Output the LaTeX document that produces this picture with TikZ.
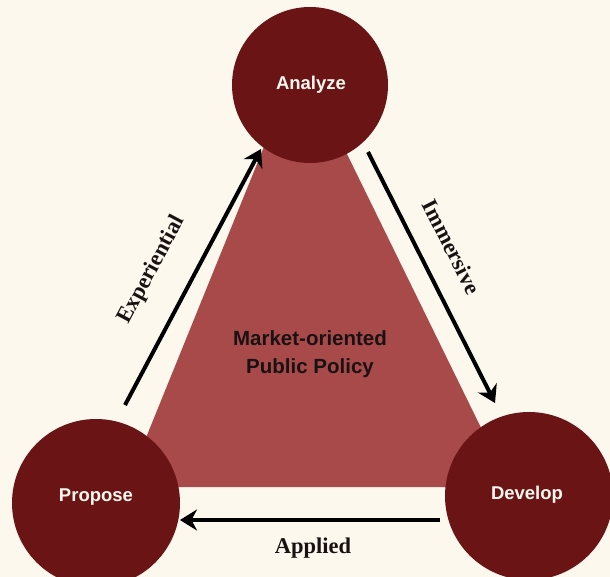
\documentclass[tikz,border=0pt]{standalone}
\usepackage{fontspec}
\setmainfont{Liberation Serif}
\setsansfont{Liberation Sans}
\usetikzlibrary{arrows.meta}

\definecolor{cream}{HTML}{FCF8EE}
\definecolor{maroon}{HTML}{6B1416}
\definecolor{brick}{HTML}{A84A4A}
\definecolor{ink}{HTML}{1A1212}

\tikzset{
  stage/.style={circle, fill=maroon, inner sep=0pt},
  stagetext/.style={text=cream, font=\sffamily\bfseries\fontsize{18.5}{22}\selectfont},
  flow/.style={line width=4pt, -{Stealth[length=17pt,width=21pt]}},
  mode/.style={text=ink, font=\bfseries\fontsize{22.5}{26}\selectfont},
}

\begin{document}
\begin{tikzpicture}[x=1pt,y=-1pt]

  \useasboundingbox (0,0) rectangle (610,577);
  \clip (0,0) rectangle (610,577);
  \fill[cream] (0,0) rectangle (610,577);

  % centre triangle
  \fill[brick] (300,58) -- (126,487) -- (510,487) -- cycle;
  \node[align=center, text=ink, font=\sffamily\bfseries\fontsize{20.5}{28}\selectfont] (policy) at (310,354)
    {Market-oriented\\Public Policy};

  % the three stages
  \node[stage, minimum size=156pt] (analyze) at (310,85) {};
  \node[stage, minimum size=168pt] (propose) at (96,503) {};
  \node[stage, minimum size=168pt] (develop) at (529,496) {};
  \node[stagetext] (analyzet) at (311,85) {Analyze};
  \node[stagetext] (proposet) at (96,497) {Propose};
  \node[stagetext] (developt) at (527,495) {Develop};

  % arrows
  \coordinate (exp1) at (125,405);
  \coordinate (exp2) at (261,149);
  \coordinate (imm1) at (368,152);
  \coordinate (imm2) at (495,403);
  \coordinate (app1) at (440,520);
  \coordinate (app2) at (180,520);
  \draw[flow] (exp1) -- (exp2);
  \draw[flow] (imm1) -- (imm2);
  \draw[flow] (app1) -- (app2);

  \node[mode, rotate=62] (expl) at (152,270) {Experiential};
  \node[mode, rotate=-63] (imml) at (452,247) {Immersive};
  \node[mode] (appl) at (313,548) {Applied};

\end{tikzpicture}
\end{document}
